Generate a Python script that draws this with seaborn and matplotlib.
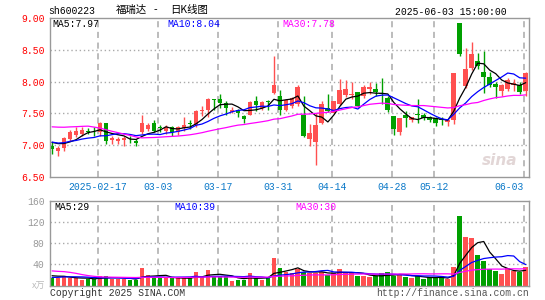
import numpy as np
import pandas as pd
import matplotlib
matplotlib.use("Agg")
import matplotlib.pyplot as plt
import seaborn as sns

# trading days 2025-02-05 .. 2025-06-03 (exchange holidays removed)
holidays = ['2025-04-04', '2025-05-01', '2025-05-02', '2025-05-05', '2025-06-02']
tick_dates = ['2025-02-17', '2025-03-03', '2025-03-17', '2025-03-31',
              '2025-04-14', '2025-04-28', '2025-05-12', '2025-06-03']
tick_labels = ['2025-02-17', '03-03', '03-17', '03-31', '04-14', '04-28', '05-12', '06-03']

opens = [6.98, 6.90, 6.96, 7.09, 7.16, 7.17, 7.22, 7.21, 7.20, 7.34,
         7.08, 7.07, 7.08, 7.10, 7.07, 7.20, 7.26, 7.35, 7.28, 7.22,
         7.29, 7.20, 7.27, 7.34, 7.32, 7.53, 7.55, 7.72, 7.72, 7.67,
         7.52, 7.55, 7.46, 7.48, 7.70, 7.59, 7.69, 7.82, 7.77, 7.55,
         7.61, 7.64, 7.47, 7.09, 7.05, 7.35, 7.59, 7.51, 7.64, 7.79,
         7.79, 7.83, 7.77, 7.88, 7.89, 7.82, 7.74, 7.46, 7.21, 7.48,
         7.39, 7.49, 7.48, 7.44, 7.42, 7.41, 7.37, 7.40, 8.93, 7.93,
         8.21, 8.33, 8.15, 8.08, 7.97, 7.86, 7.89, 7.94, 7.94, 7.85]
highs = [7.04, 6.99, 7.13, 7.23, 7.28, 7.29, 7.27, 7.28, 7.36, 7.34,
         7.15, 7.13, 7.15, 7.15, 7.09, 7.47, 7.35, 7.40, 7.32, 7.31,
         7.30, 7.30, 7.44, 7.40, 7.55, 7.62, 7.74, 7.72, 7.80, 7.69,
         7.60, 7.57, 7.48, 7.70, 7.77, 7.70, 7.71, 8.41, 7.87, 7.73,
         7.76, 7.94, 7.77, 7.33, 7.51, 7.69, 7.80, 7.70, 8.04, 8.03,
         7.99, 7.84, 7.95, 8.00, 7.98, 8.06, 7.77, 7.46, 7.43, 7.53,
         7.45, 7.73, 7.50, 7.46, 7.44, 7.45, 7.41, 8.14, 8.93, 8.53,
         8.62, 8.45, 8.48, 8.16, 8.00, 7.97, 8.05, 8.04, 8.00, 8.15]
lows = [6.86, 6.83, 6.91, 7.06, 7.12, 7.14, 7.17, 7.15, 7.15, 7.02,
        7.01, 7.02, 6.98, 7.03, 6.99, 7.18, 7.22, 7.20, 7.20, 7.18,
        7.15, 7.16, 7.22, 7.26, 7.28, 7.46, 7.45, 7.55, 7.58, 7.48,
        7.50, 7.44, 7.35, 7.47, 7.54, 7.56, 7.56, 7.80, 7.48, 7.53,
        7.58, 7.62, 7.13, 6.99, 6.68, 7.33, 7.52, 7.50, 7.63, 7.76,
        7.72, 7.60, 7.75, 7.80, 7.78, 7.64, 7.52, 7.16, 7.16, 7.28,
        7.37, 7.35, 7.40, 7.36, 7.30, 7.32, 7.30, 7.33, 8.41, 7.90,
        8.19, 8.20, 7.82, 7.92, 7.74, 7.77, 7.85, 7.85, 7.80, 7.78]
closes = [6.93, 6.95, 7.11, 7.21, 7.22, 7.24, 7.20, 7.20, 7.34, 7.06,
          7.11, 7.10, 7.11, 7.09, 7.03, 7.35, 7.31, 7.22, 7.27, 7.29,
          7.21, 7.28, 7.31, 7.33, 7.54, 7.55, 7.72, 7.71, 7.66, 7.58,
          7.56, 7.50, 7.41, 7.68, 7.63, 7.68, 7.68, 7.94, 7.56, 7.71,
          7.74, 7.92, 7.14, 7.19, 7.31, 7.64, 7.54, 7.69, 7.87, 7.88,
          7.81, 7.61, 7.92, 7.92, 7.83, 7.80, 7.56, 7.25, 7.42, 7.42,
          7.44, 7.48, 7.42, 7.40, 7.35, 7.39, 7.40, 8.13, 8.44, 8.20,
          8.44, 8.25, 8.08, 7.94, 7.92, 7.94, 8.02, 7.98, 7.84, 8.14]
# volume, 10k lots
volumes = [13.7, 14, 19, 14, 14, 11, 13, 13, 17.5, 19,
           13, 13, 13, 11.5, 11.5, 32.5, 20, 15.6, 15.6, 14,
           14, 14, 14, 14, 25, 16, 30, 18.8, 17.5, 17.5,
           9.4, 11, 11, 24, 14, 11, 14, 53, 34, 26,
           24, 31, 26, 24, 24, 26, 20, 24, 31, 24,
           24, 19, 17.5, 15.6, 17.5, 23, 25, 19, 22, 15.6,
           14, 19, 12.5, 15.6, 15.6, 15.6, 12.5, 36, 131, 91,
           89, 58, 47, 31, 28, 22, 34, 28, 25, 36]
# sessions before the window, only feeding the moving averages
prior_closes = [7.10, 7.15, 7.05, 7.12, 7.08, 7.10,
                7.65, 7.80, 7.85, 7.85, 7.75, 7.80, 7.70, 7.75, 7.80,
                7.20, 7.15, 7.10, 7.10, 7.05,
                7.10, 7.05, 7.00, 7.08, 7.02, 7.05, 7.10, 7.08, 7.05]
prior_volumes = [40, 35, 55, 70, 80, 70, 55, 45, 30, 22, 18,
                 18, 17, 16, 18, 20, 16, 18, 20, 17,
                 12, 11, 12, 14, 13, 18, 20, 22, 20]

RED = '#ff5050'
GREEN = '#00a000'
MONO = 'Liberation Mono'
CJK = ['Noto Sans CJK SC', 'DejaVu Sans']

days = pd.bdate_range('2025-02-05', '2025-06-03')
days = days[~days.isin(pd.to_datetime(holidays))]
df = pd.DataFrame({'date': days, 'open': opens, 'high': highs,
                   'low': lows, 'close': closes, 'vol': volumes})
df['x'] = np.arange(len(df))
n0 = len(prior_closes)
all_c = pd.Series(prior_closes + closes)
all_v = pd.Series(prior_volumes + volumes)
for w in (5, 10, 30):
    df[f'ma{w}'] = all_c.rolling(w).mean().iloc[n0:].values
    df[f'vma{w}'] = all_v.rolling(w).mean().iloc[n0:].values
df['color'] = np.where(df.close >= df.open, RED, GREEN)
tick_pos = [int(df.index[df.date == pd.Timestamp(d)][0]) for d in tick_dates]

sns.set_style('white')
plt.rcParams['font.family'] = [MONO, 'DejaVu Sans']

W, H = 545, 300
fig = plt.figure(figsize=(W / 100, H / 100), dpi=100)
ax = fig.add_axes([50 / W, 1 - 176.7 / H, 479.3 / W, 158.4 / H])
axv = fig.add_axes([50 / W, 1 - 285.7 / H, 479.3 / W, 85 / H])

grid_x = [p - 0.35 for p in tick_pos]
for a in (ax, axv):
    for s in a.spines.values():
        s.set_color('#999999')
        s.set_linewidth(1)
    for gx in grid_x:
        a.axvline(gx, color='#aaaaaa', ls=(0, (4, 3)), lw=1.1, zorder=0)
    a.set_xlim(-0.35, 79.6)
    a.set_xticks(grid_x)
    a.tick_params(length=0)

# candles
ax.vlines(df.x, df.low, df.high, colors=df.color, lw=1, zorder=2)
body = np.maximum((df.close - df.open).abs(), 0.012)
ax.bar(df.x, body, bottom=np.minimum(df.open, df.close), width=0.8,
       color=df.color, lw=0, zorder=2)
for col, c in (('ma5', 'black'), ('ma10', '#0000ff'), ('ma30', '#ff00ff')):
    sns.lineplot(data=df, x='x', y=col, color=c, lw=0.9, ax=ax, zorder=3)

for yv in (7.0, 7.5, 8.0, 8.5):
    ax.axhline(yv, color='#aaaaaa', ls=(0, (1, 2)), lw=1, zorder=0)
ax.set_ylim(6.5, 9.0)
ax.set_yticks([6.5, 7.0, 7.5, 8.0, 8.5, 9.0])
ax.set_yticklabels([f'{v:.2f}' for v in [6.5, 7.0, 7.5, 8.0, 8.5, 9.0]])
ax.tick_params(axis='y', labelcolor='#ff0000', labelsize=7, pad=4)
ax.set_xticklabels(tick_labels)
ax.get_xticklabels()[-1].set_ha('right')
ax.tick_params(axis='x', labelcolor='#0a78c8', labelsize=7, pad=3.5)
ax.set_xlabel('')
ax.set_ylabel('')
ax.text(0.975, 0.1, 'sina', transform=ax.transAxes, ha='right', va='center',
        color='#e2d6d6', fontsize=11, fontweight='bold', style='italic',
        family='DejaVu Sans', zorder=1)

# volume
axv.bar(df.x, df.vol, width=0.8, color=df.color, lw=0, zorder=2)
for col, c in (('vma5', 'black'), ('vma10', '#0000ff'), ('vma30', '#ff00ff')):
    sns.lineplot(data=df, x='x', y=col, color=c, lw=0.9, ax=axv, zorder=3)
for yv in (40, 80, 120):
    axv.axhline(yv, color='#aaaaaa', ls=(0, (1, 2)), lw=1, zorder=0)
axv.set_ylim(0, 160)
axv.set_yticks([40, 80, 120, 160])
axv.set_yticklabels(['40', '80', '120', '160'])
axv.tick_params(axis='y', labelcolor='#999999', labelsize=7, pad=4)
axv.set_xticklabels([])
axv.set_xlabel('')
axv.set_ylabel('')


def ptext(x, y, s, **kw):
    fig.text(x / W, 1 - y / H, s, va='center', **kw)


ptext(48, 11, 'sh600223', fontsize=7, color='black')
ptext(116, 10, '福瑞达', fontsize=7.5, color='black', family=CJK)
ptext(155, 10, '-', fontsize=7.5, color='black', ha='center', family=CJK)
ptext(170, 10, '日K线图', fontsize=7.5, color='black', family=CJK)
ptext(507, 12, '2025-06-03 15:00:00', fontsize=7, color='black', ha='right')
ptext(52, 24, 'MA5:7.97', fontsize=7, color='black')
ptext(167, 24, 'MA10:8.04', fontsize=7, color='#0000ff')
ptext(282, 24, 'MA30:7.78', fontsize=7, color='#ff00ff')
ptext(54, 207, 'MA5:29', fontsize=7, color='black')
ptext(174, 207, 'MA10:39', fontsize=7, color='#0000ff')
ptext(295, 207, 'MA30:30', fontsize=7, color='#ff00ff')
ptext(45, 286, 'x万', fontsize=6.5, color='#bbbbbb', ha='right', family=CJK)
ptext(50, 293, 'Copyright 2025 SINA.COM', fontsize=7, color='#333333')
ptext(529, 293, 'http://finance.sina.com.cn', fontsize=7, color='#555555', ha='right')

fig.savefig('out.png', dpi=100, facecolor='white')
